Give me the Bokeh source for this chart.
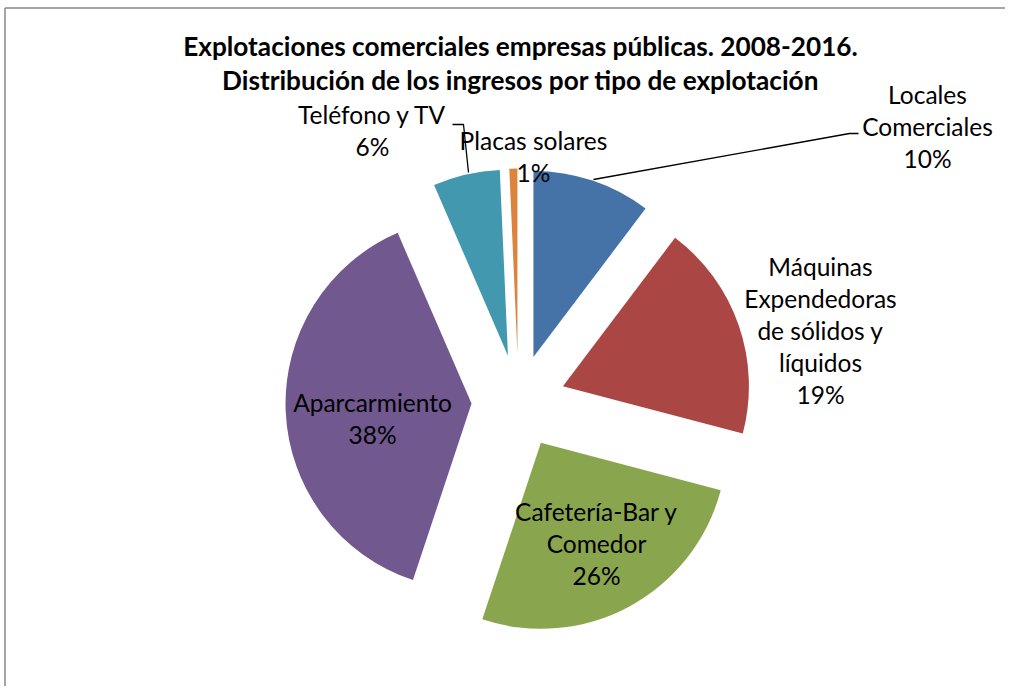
import math
from bokeh.plotting import figure
from bokeh.models import Range1d, ColumnDataSource
from bokeh.core.properties import value
from bokeh.embed import file_html
from bokeh.resources import INLINE

# ---------------- data ----------------
categories = ["Locales Comerciales",
              "Máquinas Expendedoras de sólidos y líquidos",
              "Cafetería-Bar y Comedor",
              "Aparcarmiento",
              "Teléfono y TV",
              "Placas solares"]
shares = [10.3, 18.8, 26.0, 38.4, 5.8, 0.7]
label_lines = [["Locales", "Comerciales"],
               ["Máquinas", "Expendedoras", "de sólidos y", "líquidos"],
               ["Cafetería-Bar y", "Comedor"],
               ["Aparcarmiento"],
               ["Teléfono y TV"],
               ["Placas solares"]]
colors = ["#4572A7", "#AA4643", "#89A54E", "#71588F", "#4198AF", "#DB843D"]
title_lines = ["Explotaciones comerciales empresas públicas. 2008-2016.",
               "Distribución de los ingresos por tipo de explotación"]

# ---------------- layout (image pixel coordinates) ----------------
W, H = 1005, 686
CX, CY = 518, 401          # pie centre
R = 186                    # pie radius
EXPLODE = 47               # explosion distance
FONT = "Lato"
# label block: centre x, y of first line (image px)
label_pos = [(927, 94), (820, 266), (596, 511), (372, 402), (372, 114), (533, 140)]
LINE_H = 32

def Y(y):
    return H - y

p = figure(width=W, height=H, output_backend="svg", toolbar_location=None,
           x_range=Range1d(0, W), y_range=Range1d(0, H),
           min_border=0, min_border_left=0, min_border_right=0,
           min_border_top=0, min_border_bottom=0)
p.axis.visible = False
p.grid.visible = False
p.outline_line_color = None
p.background_fill_color = "white"
p.border_fill_color = "white"

# chart area border (left and top)
p.multi_line(xs=[[4.5, 4.5], [4.5, W]], ys=[[Y(7.5), Y(H)], [Y(7.5), Y(7.5)]],
             line_color="#878787", line_width=1.5)

# ---------------- wedges ----------------
total = sum(shares)
xs, ys, sa, ea = [], [], [], []
cum = 0.0
for s in shares:
    t0 = cum / total * 2 * math.pi
    t1 = (cum + s) / total * 2 * math.pi
    tm = (t0 + t1) / 2
    xs.append(CX + EXPLODE * math.sin(tm))
    ys.append(Y(CY) + EXPLODE * math.cos(tm))
    sa.append(math.pi / 2 - t0)
    ea.append(math.pi / 2 - t1)
    cum += s

src = ColumnDataSource(dict(x=xs, y=ys, start=sa, end=ea, color=colors, cat=categories))
p.wedge(x="x", y="y", radius=R, start_angle="start", end_angle="end",
        direction="clock", fill_color="color", line_color=None, source=src)

# ---------------- leader lines ----------------
p.line(x=[858, 849, 593], y=[Y(133), Y(133), Y(179)], line_color="black", line_width=1.3)
p.line(x=[452, 463, 468], y=[Y(124), Y(124), Y(172)], line_color="black", line_width=1.3)

# ---------------- labels ----------------
tx, ty, tt = [], [], []
for (lx, ly), lines, s in zip(label_pos, label_lines, shares):
    all_lines = lines + ["%d%%" % round(s)]
    for i, ln in enumerate(all_lines):
        tx.append(lx)
        ty.append(Y(ly + i * LINE_H))
        tt.append(ln)
p.text(x=tx, y=ty, text=tt, text_font=value(FONT), text_font_size="24.5px",
       text_align="center", text_baseline="middle", text_color="black")

# ---------------- title ----------------
p.text(x=[520, 520], y=[Y(45), Y(79)], text=title_lines, text_font=value(FONT),
       text_font_size="26.2px", text_font_style="bold", text_align="center",
       text_baseline="middle", text_color="black")

open("out.html", "w").write(file_html(p, INLINE))
